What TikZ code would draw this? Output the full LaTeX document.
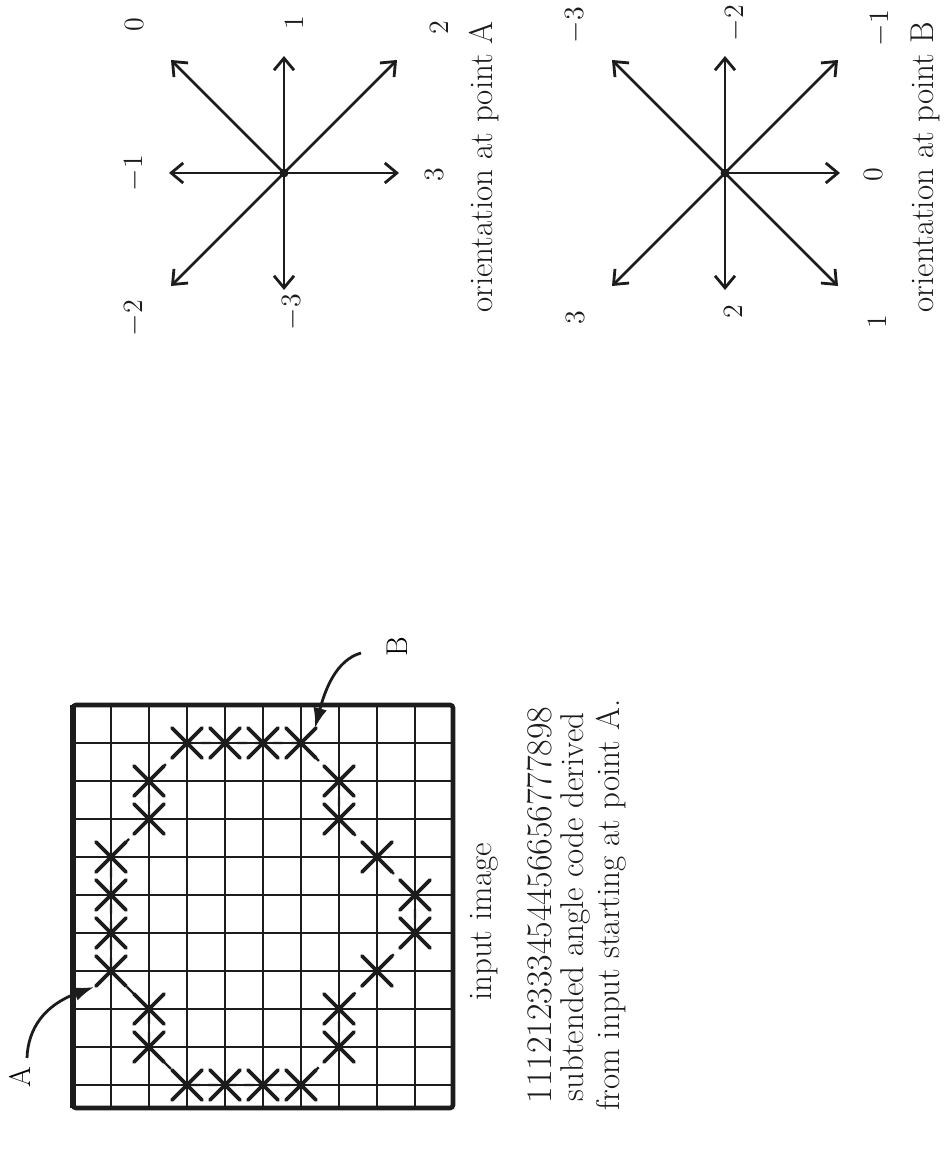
\documentclass[tikz,border=0pt]{standalone}
\usepackage{tikz}
\usetikzlibrary{arrows.meta, calc, positioning}
\definecolor{scanink}{HTML}{1C1C1C}
\newcommand{\typesize}[1]{\rmfamily\fontsize{#1}{#1}\selectfont}
\tikzset{
  gridline/.style={draw=scanink, line width=1.4pt},
  gridframe/.style={draw=scanink, line width=2.3pt, rounded corners=1.5pt},
  crossmark/.style={draw=scanink, line width=1.8pt, line cap=round},
  trackline/.style={draw=scanink, line width=1.2pt, dash pattern=on 5pt off 4pt},
  pointer/.style={draw=scanink, line width=1.4pt, -{Latex[length=10pt,width=7pt]}},
  rayarrow/.style={draw=scanink, line width=1.4pt, -{Straight Barb[length=6pt,width=10pt]}},
  hublabel/.style={font=\typesize{14}, text=scanink, rotate=90, inner sep=0pt},
  caption/.style={font=\typesize{16.5}, text=scanink, rotate=90, inner sep=0pt}
}

\begin{document}
\begin{tikzpicture}[x=0.5pt,y=-0.5pt]
\useasboundingbox (0,0) rectangle (947,1149);

% input image grid (cells of 38)
\foreach \k in {1,...,9}
  \draw[gridline] ({73+38*\k},705) -- ({73+38*\k},1108);
\foreach \r in {1,...,10}
  \draw[gridline] (73,{705+38*\r}) -- (453,{705+38*\r});
\draw[gridframe] (73,705) rectangle (453,1108);
\draw[gridframe, line width=3.2pt] (73,705) -- (73,1108);

% contour points
\foreach \c/\r [count=\i] in {6/1,5/1,4/1,3/1,2/2,2/3,1/4,1/5,1/6,1/7,2/8,2/9,
    3/10,4/10,5/10,6/10,7/9,7/8,8/7,9/6,9/5,8/4,7/3,7/2}
  \coordinate (p\i) at ({73+38*\c},{705+38*\r});
\draw[trackline] (p1) \foreach \i in {2,...,24}{ -- (p\i)} -- cycle;
\foreach \i in {1,...,24}
  \draw[crossmark] ($(p\i)+(-15,-15)$) -- ($(p\i)+(15,15)$)
                   ($(p\i)+(-15,15)$) -- ($(p\i)+(15,-15)$);

% start and end markers
\node[font=\typesize{15}, rotate=90, inner sep=0pt] (labA) at (20,1077) {A};
\node[font=\typesize{15}, rotate=90, inner sep=0pt] (labB) at (397,647) {B};
\coordinate (tailA) at (27,1058);
\coordinate (tipA) at (94,987);
\coordinate (tailB) at (361,653);
\coordinate (tipB) at (315,728);
\draw[pointer] (tailA) .. controls (28,1028) and (45,1005) .. (tipA);
\draw[pointer] (tailB) .. controls (336,660) and (325,690) .. (tipB);

% captions under the grid
\node[caption] (capimg) at (484,922) {input image};
\node[caption, font=\typesize{18}] (capcode) at (540,905) {111212333454456656777898};
\node[caption] (capsub) at (575,907) {subtended angle code derived};
\node[caption] (capfrom) at (611,905) {from input starting at point A.};

% orientation at point A
\coordinate (hubA) at (284,173);
\foreach \dx/\dy in {-113/-113, 0/-117, 113/-113, 115/0, -115/0, -113/113, 0/117}
  \draw[rayarrow] (hubA) -- ++(\dx,\dy);
\fill[scanink] (hubA) circle (4.5);
\node[hublabel] (la0) at (134,25) {0};
\node[hublabel] (la1) at (294,23) {1};
\node[hublabel] (la2) at (439,28) {2};
\node[hublabel] (la3) at (434,175) {3};
\node[hublabel] (lam1) at (134,173) {$-$1};
\node[hublabel] (lam2) at (134,318) {$-$2};
\node[hublabel] (lam3) at (292,312) {$-$3};
\node[caption] (capA) at (484,167) {orientation at point A};

% orientation at point B
\coordinate (hubB) at (725,173);
\foreach \dx/\dy in {-113/-113, 0/-117, 113/-113, 115/0, 113/113, 0/117, -113/113}
  \draw[rayarrow] (hubB) -- ++(\dx,\dy);
\fill[scanink] (hubB) circle (4.5);
\node[hublabel] (lbm3) at (575,25) {$-$3};
\node[hublabel] (lbm2) at (735,23) {$-$2};
\node[hublabel] (lbm1) at (880,28) {$-$1};
\node[hublabel] (lb0) at (873,175) {0};
\node[hublabel] (lb1) at (877,322) {1};
\node[hublabel] (lb2) at (733,312) {2};
\node[hublabel] (lb3) at (575,318) {3};
\node[caption] (capB) at (925,167) {orientation at point B};
\end{tikzpicture}
\end{document}
